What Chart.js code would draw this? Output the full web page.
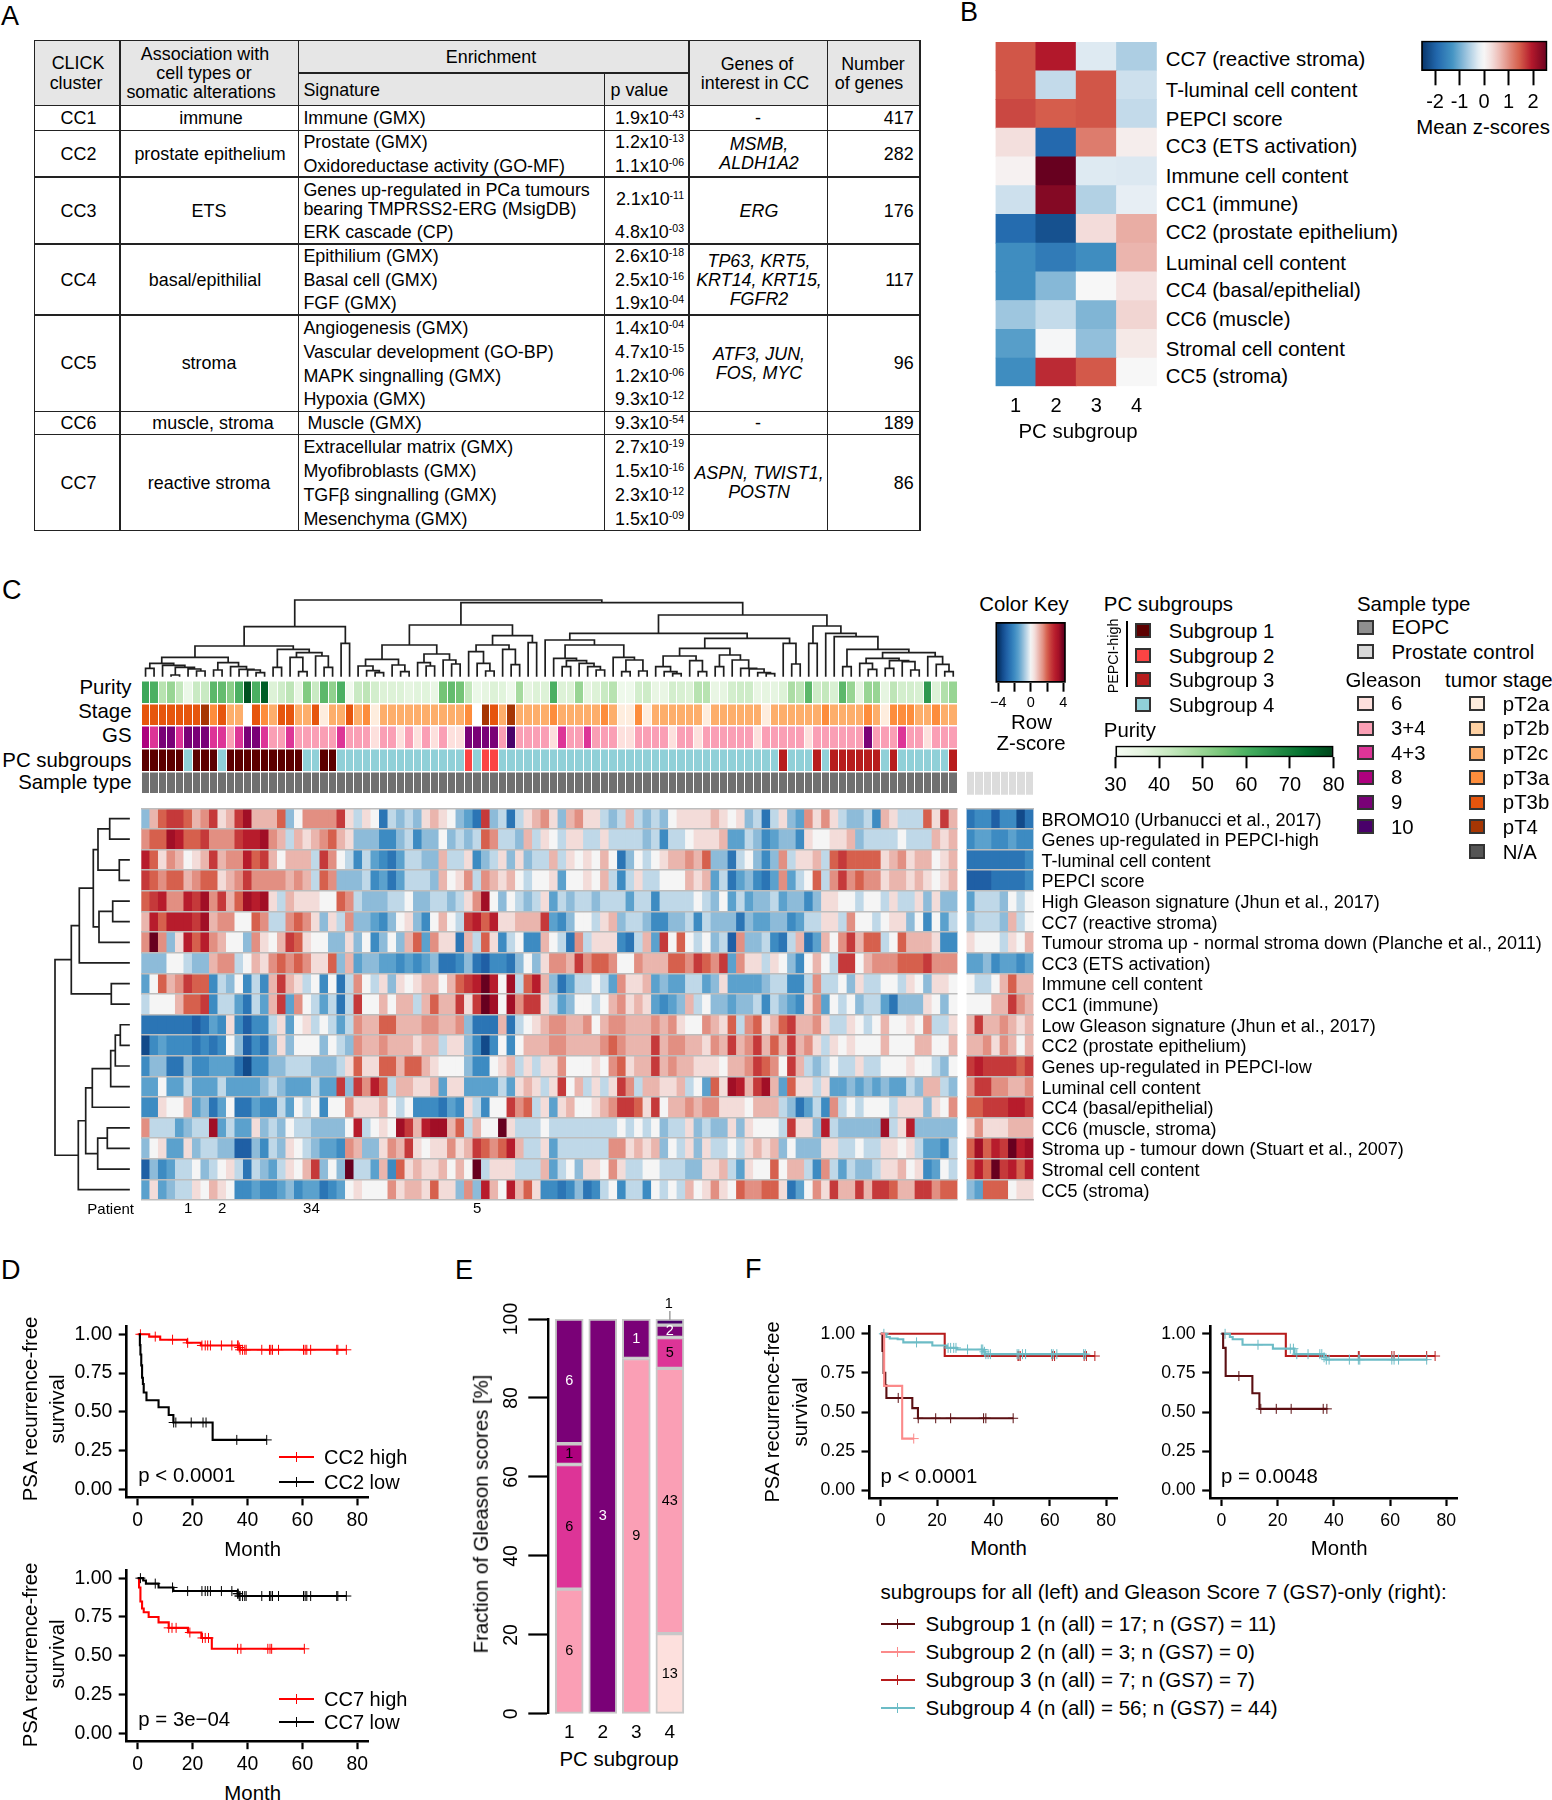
<!DOCTYPE html>
<html><head><meta charset="utf-8">
<script src="https://cdn.jsdelivr.net/npm/chart.js@4"></script>
<style>
html,body{margin:0;padding:0;background:#fff}
#root{position:relative;width:1552px;height:1800px;overflow:hidden;background:#fff;font-family:'Liberation Sans',Arial,sans-serif;color:#000}
#root canvas{position:absolute}
.t{position:absolute;white-space:nowrap;line-height:1}
.t sup{font-size:10.5px;line-height:0;vertical-align:6px}
.r{position:absolute}
</style></head><body><div id="root"></div>
<script>
/* ---------- panel B values (mean z-scores) ---------- */
const bCategories=['1','2','3','4'];
const bRowNames=['CC7 (reactive stroma)','T-luminal cell content','PEPCI score','CC3 (ETS activation)','Immune cell content','CC1 (immune)','CC2 (prostate epithelium)','Luminal cell content','CC4 (basal/epithelial)','CC6 (muscle)','Stromal cell content','CC5 (stroma)'];
const bCC7=[1.5,1.95,-0.26,-0.6];
const bTLum=[1.5,-0.45,1.5,-0.38];
const bPEPCI=[1.6,1.45,1.5,-0.45];
const bCC3=[0.3,-1.9,1.17,0.13];
const bImmune=[0.07,2.6,-0.26,-0.28];
const bCC1=[-0.38,2.35,-0.57,-0.2];
const bCC2=[-1.87,-2.2,0.33,0.75];
const bLuminal=[-1.38,-1.64,-1.38,0.68];
const bCC4=[-1.38,-0.86,0,0.26];
const bCC6=[-0.7,-0.44,-0.9,0.39];
const bStromal=[-1.17,-0.03,-0.78,0.18];
const bCC5=[-1.38,1.82,1.48,0];
const bKeyTicks=[-2,-1,0,1,2];

/* ---------- panel C annotation tracks (96 samples) ---------- */
const purity=[62,60,45,50,43,34,42,42,58,57,52,60,78,60,76,38,41,44,35,53,42,58,51,60,32,42,44,40,38,38,38,36,37,37,35,55,57,55,43,34,36,38,37,33,48,36,38,
38,60,38,38,50,36,38,42,45,33,33,40,41,35,35,40,39,38,45,45,35,36,40,41,41,35,36,36,38,47,44,58,41,43,39,58,50,36,50,50,36,44,40,40,39,65,38,46,50];
const stage=[5,5,5,5,5,5,5,6,4,5,3,3,0,5,4,3,5,5,3,3,5,1,3,3,5,3,4,1,3,3,3,3,3,3,3,3,3,3,4,0,6,5,3,6,3,3,3,
3,4,3,3,3,3,3,4,3,1,1,4,1,3,3,3,3,3,3,1,3,3,3,3,3,3,1,3,3,3,3,3,3,4,3,3,3,3,4,3,1,4,4,4,3,3,4,3,3];
const gleason=[4,3,5,5,3,5,5,5,3,3,2,3,5,5,3,2,2,3,2,2,2,2,2,3,2,2,2,1,2,2,1,2,1,2,1,2,1,1,5,5,5,5,2,6,2,2,2,
2,1,3,2,2,3,2,2,2,1,1,2,2,2,2,1,2,2,1,2,2,2,2,2,2,1,2,2,2,2,2,1,2,2,2,2,2,2,5,2,2,2,3,2,2,1,2,2,2];
const subgroup=[1,1,1,1,1,4,1,1,1,4,1,1,1,1,1,1,1,1,1,4,4,1,1,4,4,4,4,4,4,4,4,4,4,4,4,4,4,4,2,4,2,2,4,4,4,4,4,4,4,4,
4,4,4,4,4,4,4,4,4,4,4,4,4,4,4,4,4,4,4,4,4,4,4,4,4,3,4,4,4,3,4,3,3,3,3,3,3,4,3,4,4,4,4,4,4,3];

/* ---------- panel C heatmap: half z-score steps (value x 0.5 = z), EOPC samples ---------- */
const rowBROMO10=[-2,2,4,5,5,4,2,3,5,1,2,5,7,2,2,2,4,-2,0,3,3,3,3,5,1,-1,1,0,-5,-1,-2,-1,-2,1,2,1,0,-2,-3,-5,5,-2,-1,-5,-1,1,2,3,1,-2,2,3,1,1,-1,-2,-1,2,-1,-2,-1,-2,0,1,1,1,1,2,1,0,1,-2,-1,-5,-1,1,-2,-3,3,1,3,1,-1,-2,-2,-1,-4,2,1,-1,-1,-1,4,1,5,2];
const rowUpHigh=[3,4,4,7,6,4,4,5,3,3,3,5,6,6,7,3,2,-1,2,1,2,3,4,2,1,-2,-2,-2,-4,-4,-2,-1,-4,-2,-2,0,-2,-1,-2,-1,4,3,-1,-1,-2,2,-1,1,0,-1,1,1,-1,-1,1,-1,-1,-1,-1,-2,-1,-4,-1,-1,0,1,1,1,2,-3,-3,-1,-2,-4,-3,-2,-2,-4,1,0,0,1,1,2,-2,-1,-1,-1,-1,0,-1,-1,-1,2,1,2];
const rowTLum=[6,4,1,3,2,0,1,2,5,2,3,3,6,4,5,2,0,2,2,2,-1,5,3,0,-1,-4,-1,-3,-4,-5,-3,-1,-1,-2,-2,2,-1,-1,1,-4,-2,-1,1,-2,1,-2,-1,-1,2,-1,1,0,1,0,2,0,-5,-2,0,-1,0,1,2,2,3,2,4,-2,-2,-5,-1,0,-2,-4,-2,3,-1,1,1,2,-1,4,5,4,4,4,4,1,2,3,1,2,2,0,1,2];
const rowPEPCI=[5,4,3,4,4,2,3,4,4,1,2,3,5,3,3,3,3,2,3,2,-1,4,3,-2,-2,-2,-1,-4,-3,-5,-3,-1,-1,-1,-2,2,0,1,3,-1,3,2,1,2,0,-1,0,0,1,-3,0,0,1,0,2,-1,-4,-1,1,-1,-1,0,0,0,2,1,2,-3,-1,-5,-3,-2,-4,-5,-3,3,-3,-1,0,4,-1,3,5,3,4,3,3,1,2,2,1,2,1,0,1,2];
const rowHighGleason=[4,5,6,3,3,6,5,7,3,5,2,4,7,6,7,1,-1,2,1,1,1,0,0,4,3,-1,-2,-2,-2,-1,-1,0,-2,-2,-1,-1,-2,-1,1,3,7,0,-2,0,-1,-2,-1,1,-3,-1,-2,-1,-1,-2,-1,-1,-1,-3,-1,-1,-4,-1,-1,-1,-1,0,-1,-2,0,-3,-1,-3,-2,-2,-1,-3,-2,-2,-4,-2,1,1,0,0,-1,0,0,-1,1,-1,-1,1,-2,1,-2,-2];
const rowCC7=[2,6,4,6,6,6,5,7,2,3,3,0,0,4,3,-1,-1,3,4,3,1,-2,1,-1,3,-2,-2,-3,-4,-2,0,1,-2,-4,0,2,0,-1,5,6,4,6,1,1,2,2,2,5,-3,-4,-2,0,0,-1,1,2,-2,-1,-1,-2,-4,-4,-2,-2,-1,-4,-1,-2,-2,-2,-5,-2,-3,-3,-2,-2,-4,-3,-1,-1,1,1,-1,3,0,0,-1,0,1,1,-2,0,-4,0,-3,-1];
const rowTumourStroma=[3,8,3,-2,1,6,4,6,3,2,0,0,-2,3,1,0,2,5,4,1,0,0,-2,-2,1,-2,0,-4,-2,0,-2,2,4,-3,3,1,1,-5,2,-1,4,1,-4,-1,0,-4,-4,2,0,-1,-5,3,-1,1,1,1,-4,-5,-1,2,-3,5,0,4,0,-1,0,-2,-1,-6,3,-2,-2,-1,-4,-5,-1,2,-5,-3,2,0,3,5,2,4,4,-1,0,4,2,2,2,1,-4,-4];
const rowCC3=[-2,-2,-2,0,0,-1,-2,-2,2,3,3,-1,0,2,1,3,4,3,4,3,1,1,4,-2,2,-3,-2,-2,-3,-3,-4,-3,-4,-3,-2,-5,-5,-4,-2,-5,-6,-4,-4,-5,-2,0,-2,1,3,3,2,5,3,4,4,3,0,0,3,2,2,2,4,4,3,5,4,3,5,-3,3,1,1,-1,1,0,-2,-4,0,2,0,-1,5,5,0,2,3,3,3,4,4,4,5,3,3,3];
const rowImmune=[-3,0,4,2,3,5,4,4,-4,-1,-2,0,-4,-1,-4,2,5,2,1,-1,0,-4,0,-5,-1,3,0,-1,1,-2,1,0,1,2,2,0,2,4,5,6,8,6,0,7,-1,4,6,2,-2,-5,-3,-1,-1,0,-1,-3,3,1,1,2,-3,-2,-3,-3,-1,-1,-3,-2,1,-3,-3,-3,-3,-2,-1,-1,-4,-4,-1,3,-1,-1,0,-2,1,-1,-1,0,0,-1,1,0,-2,1,1,0];
const rowCC1=[-1,0,0,0,2,4,4,5,-4,-1,-1,-3,-5,-1,-3,2,5,-3,3,0,-1,-3,-1,-5,-1,5,0,0,2,0,2,2,-1,2,4,2,2,5,1,5,8,7,0,7,3,5,5,1,-1,-3,-2,0,0,-1,0,2,3,1,2,1,-3,-4,-3,-2,2,-1,0,-2,-2,-3,-2,-2,-1,-4,-1,-2,-3,-4,1,3,-3,0,-1,0,-2,-1,-1,-3,-5,-2,-2,-2,1,0,-2,0];
const rowLowGleason=[-5,-5,-5,-5,-5,-5,-6,-5,-3,-4,1,-4,-6,-4,-4,-1,1,-3,0,1,-1,0,-1,-3,-1,3,2,2,4,4,2,2,2,3,3,2,2,3,-2,-5,-5,-5,2,-5,-1,0,1,2,3,3,2,2,3,0,2,3,3,2,2,2,3,2,3,1,0,0,3,2,1,4,-1,3,4,1,2,4,5,2,2,3,1,-1,-1,1,0,-1,0,2,0,0,1,0,3,-1,-1,1];
const rowCC2=[-7,-4,-3,-4,-4,-4,-5,-4,-5,-4,0,-2,-6,-4,-5,-2,1,-2,0,0,0,-2,0,-1,-2,3,2,2,3,2,2,2,1,2,2,-1,1,1,-2,-4,-7,-4,0,-4,0,2,2,2,3,3,2,2,2,2,3,4,3,2,2,2,5,2,3,3,2,2,1,3,2,5,2,3,5,2,4,2,5,2,3,1,-1,1,0,1,0,0,0,2,0,0,0,2,2,0,0,2];
const rowUpLow=[-4,-2,-2,-5,-5,-2,-4,-4,-3,-3,-3,-5,-7,-4,-4,-2,-2,-1,-1,-1,-2,-2,-2,-1,1,4,1,1,4,4,2,4,4,2,1,0,0,0,-2,-4,-4,0,1,2,-1,1,-1,1,1,3,0,0,0,1,0,3,4,1,2,2,5,2,3,2,2,1,1,1,0,2,2,3,5,4,3,0,5,2,-1,-2,-1,0,-1,-1,1,-1,-1,0,0,0,1,0,0,-1,-2,0];
const rowLuminal=[-3,-3,0,-3,-3,-1,-3,-3,-3,-1,-3,-3,-3,-3,-2,-1,-2,-3,-3,-3,-1,-3,-3,5,-2,5,3,6,4,-1,2,2,1,1,2,-3,1,1,-3,-3,-3,-3,-1,-3,1,2,1,-1,1,5,0,2,-1,1,-1,1,5,3,-1,2,2,1,1,2,-1,0,-3,4,1,7,6,2,5,7,2,-3,4,1,1,-1,1,-3,-3,-2,-3,-2,-3,-2,-3,-3,-1,-2,2,2,-1,-2];
const rowCC4=[-4,-4,1,0,0,2,-3,-2,-5,-3,0,-5,-5,-3,-4,-4,-1,-3,0,-1,0,-4,0,0,3,1,1,1,2,0,-1,0,-4,-4,-4,-5,-3,-4,1,-1,-4,0,0,5,3,4,-1,1,-3,1,2,0,0,1,2,3,5,5,4,1,5,0,2,2,3,2,3,3,1,1,1,0,2,2,2,-1,-2,-5,-3,-1,-4,3,-1,0,-1,0,0,0,-1,1,1,1,-2,1,0,3];
const rowCC6=[3,-1,-1,-1,-3,-2,-1,-1,7,-3,-1,-3,-3,1,-2,-1,-2,0,-1,-1,-2,-2,-2,-2,0,6,-1,0,1,0,7,5,2,6,7,7,2,4,-1,2,0,0,8,1,-1,-1,-1,0,-1,-1,-1,-1,-1,-1,-1,-1,0,-1,0,-1,0,-2,-1,-1,1,-2,-1,-2,-2,1,-2,1,0,0,0,-1,5,1,1,-2,6,-1,-2,-2,-2,-2,-2,7,-1,1,6,-2,-2,-2,-2,-2];
const rowStromaUp=[-2,0,1,-3,-3,1,-2,-1,-1,-2,-2,-6,-6,-2,-4,-1,-2,1,0,-1,-2,-3,-3,-4,3,2,-2,-2,1,3,2,5,1,0,1,1,3,1,2,5,4,3,4,6,2,-1,-1,1,-3,-1,-1,-1,-1,-1,-1,3,3,1,2,1,2,-2,0,-1,1,-2,1,-1,-1,0,-1,1,2,1,2,-2,0,-2,-2,-2,1,1,-1,-1,0,-1,-1,1,1,0,1,-1,-3,-3,-4,-1];
const rowStromal=[-6,-2,-4,-3,-1,-1,0,-2,-1,0,1,-1,-5,-1,-2,-3,-1,1,0,2,5,-2,0,-2,8,-1,-1,-3,2,-4,4,1,2,1,1,2,0,2,0,8,-1,1,1,1,-1,-1,-1,2,-3,-1,0,-2,1,1,0,3,1,-1,-1,0,0,-1,-1,-1,-2,-2,1,1,2,-1,-3,1,0,0,4,0,2,2,-1,-4,3,-1,-3,-1,-2,-2,-1,1,1,2,0,1,-4,-3,0,-1];
const rowCC5=[-3,1,-3,-2,-1,-1,1,0,2,1,0,-4,-4,-3,-4,-4,-3,-2,-4,-3,-3,-5,-4,-3,0,1,0,0,0,3,1,2,2,1,4,1,1,-2,3,-2,6,2,0,6,2,4,1,-4,-4,-5,-4,-2,-5,-4,-1,0,-4,-1,-1,-4,0,-1,0,-1,2,0,1,3,1,0,4,3,3,4,4,1,-5,-3,0,3,1,5,2,2,5,2,5,5,4,2,2,5,5,3,4,4];

/* ---------- panel C heatmap: prostate control samples ---------- */
const ctlBROMO10=[-5,-4,-4,-6,-4,-4,-7,-5];
const ctlUpHigh=[-4,-3,-3,-4,-4,-3,-4,-4];
const ctlTLum=[-5,-5,-5,-5,-5,-5,-5,-4];
const ctlPEPCI=[-6,-6,-6,-5,-5,-5,-5,-4];
const ctlHighGleason=[-3,-1,-1,-1,-2,0,-1,0];
const ctlCC7=[-2,-1,-1,-1,-2,2,-1,0];
const ctlTumourStroma=[1,0,0,0,-1,1,0,2];
const ctlCC3=[-3,-3,-2,-4,-3,-3,-4,-3];
const ctlImmune=[0,-1,-1,0,2,4,2,2];
const ctlCC1=[0,0,0,2,2,5,3,2];
const ctlLowGleason=[2,5,2,2,3,2,1,2];
const ctlCC2=[2,2,3,1,3,2,0,2];
const ctlUpLow=[5,6,5,5,5,5,4,5];
const ctlLuminal=[3,5,5,3,3,2,2,3];
const ctlCC4=[4,4,5,5,5,6,6,5];
const ctlCC6=[1,3,1,1,1,2,2,2];
const ctlStromaUp=[4,7,4,6,5,8,6,7];
const ctlStromal=[4,6,4,8,5,6,4,6];
const ctlCC5=[-2,-3,4,4,4,0,1,1];

const heatRowNames=['BROMO10 (Urbanucci et al., 2017)','Genes up-regulated in PEPCI-high','T-luminal cell content','PEPCI score','High Gleason signature (Jhun et al., 2017)','CC7 (reactive stroma)','Tumour stroma up - normal stroma down (Planche et al., 2011)','CC3 (ETS activation)','Immune cell content','CC1 (immune)','Low Gleason signature (Jhun et al., 2017)','CC2 (prostate epithelium)','Genes up-regulated in PEPCI-low','Luminal cell content','CC4 (basal/epithelial)','CC6 (muscle, stroma)','Stroma up - tumour down (Stuart et al., 2007)','Stromal cell content','CC5 (stroma)'];
const patientColumns=[5,9,19,20,39];
const patientLabels=['1','2','3','4','5'];
const colorKeyTicks=[-4,-2,0,2,4];
const purityTicks=[30,40,50,60,70,80];

/* dendrograms: node = [height, left, right]; 0 = leaf */
const topTreeLeft=[49.3,[30,
  [18.7,[12.7,[7.7,0,0],[10.7,0,[8.7,[1,0,0],[7,0,[5,0,0]]]]],[13.3,[6,0,0],[9.3,0,[6.7,0,[6,0,[3.3,0,0]]]]]],
  [26.7,[8.7,0,0],[23.3,[18.7,0,[4.3,0,0]],[20,0,[8.7,0,0]]]]],[32.7,0,0]];
const topTreeC=[31,[16.7,[10,0,[5.3,0,[3.3,0,0]]],[11,0,[4.3,0,0]]],[22,[13.3,0,[10,0,0]],[16,0,[12,0,0]]]];
const topTreeD=[40.3,[31,[24.3,0,[12.7,0,[5,0,0]]],[26.7,0,[11.3,0,0]]],[33.3,0,0]];
const topTreeE=[36,0,[31,[17.7,0,[15.3,[9.3,0,0],[12.7,0,[9.3,0,[6,0,0]]]]],[18.7,0,[16,[4.3,0,0],[5,0,0]]]]];
const topTreeF=[37.7,[27.7,[20,[9.3,0,[4.3,0,[2.3,0,0]]],[15.3,0,[4.3,0,0]]],[21,[9.3,0,0],[16,0,[7.7,0,[7,0,[3.3,0,[2.3,0,0]]]]]]],[32.7,0,[12,0,0]]];
const topTreeG=[50,[32.7,0,0],[42.7,0,[39.3,0,[26.7,[9.3,0,0],[23.3,[17.7,[12.7,0,[6.7,0,0]],[15.3,[7.7,0,0],[14.3,0,[6,0,0]]]],[19.3,0,[11.7,0,[4.3,0,0]]]]]]]];
const topTree=[76,topTreeLeft,[73.3,[51,topTreeC,topTreeD],[61,[42.7,topTreeE,topTreeF],topTreeG]]];
const rowTree=[74,[57.7,[49.7,[35.7,[31,[19.3,0,0],[9.7,0,0]],[30,[16.3,0,0],0]],0],[17.7,0,0]],[50.7,[43.3,[36.7,[18.3,[13.7,[8.7,0,0],0],0],0],[31.3,[21.7,0,0],0]],0]];

/* ---------- panels D and F: survival curves (month, survival, censoring months) ---------- */
const monthTicks=[0,20,40,60,80];
const survTicks=[0,0.25,0.5,0.75,1];
const cc2HighT=[0,4.2,8.2,18,23,36.7,37.3,76];
const cc2HighS=[1,0.985,0.965,0.945,0.928,0.915,0.90,0.90];
const cc2HighC=[1,6.4,12.7,18.2,23.4,24.6,25.5,26.5,30.5,34.3,36.4,36.6,37,37.3,38.2,39,39.5,45.2,48,48.5,49.1,51.3,60.4,61,61.6,63,72.5,72.9,76];
const cc2LowT=[0.5,0.8,1,1.3,1.6,1.9,2.2,3.2,7.6,11.3,13,27.3,47];
const cc2LowS=[1,0.93,0.87,0.8,0.72,0.68,0.625,0.575,0.53,0.48,0.432,0.32,0.32];
const cc2LowC=[13.1,13.9,19.5,23.8,24.9,36.1,47];
const cc7HighT=[0,0.5,1,1.6,2.2,4,7.6,11.3,18.3,23.2,27,60.7];
const cc7HighS=[1,0.94,0.85,0.805,0.78,0.75,0.715,0.68,0.65,0.615,0.545,0.545];
const cc7HighC=[11.3,12.5,14,19,23.6,24.6,25.8,36.4,37.6,47.4,48.2,48.8,60.7];
const cc7LowT=[0,2,3,7.6,13,36.4,37,76];
const cc7LowS=[1,0.985,0.965,0.94,0.917,0.90,0.885,0.885];
const cc7LowC=[1,6.4,12.7,18.2,23.4,24.6,25.5,26.5,30.5,34.3,36.4,36.6,37,37.3,38.2,39,39.5,45.2,48,48.5,49.1,51.3,60.4,61,61.6,63,72.5,72.9,76];

const f1Sub1T=[0,0.6,1,1.6,2,11.2,13.2,47];
const f1Sub1S=[1,0.89,0.75,0.67,0.59,0.525,0.46,0.46];
const f1Sub1C=[6.2,13.3,19.5,24.8,36.5,37.3,47];
const f1Sub2T=[0,1.2,7.6,11.7];
const f1Sub2S=[1,0.667,0.33,0.33];
const f1Sub2C=[11.7];
const f1Sub3T=[0,22.7,76];
const f1Sub3S=[1,0.858,0.858];
const f1Sub3C=[48.7,49,49.5,60.9,61.7,72.2,73,76];
const f1Sub4T=[0,2,3.2,6,8,18.3,23.5,27,36.4,37,73];
const f1Sub4S=[1,0.98,0.97,0.965,0.945,0.925,0.91,0.90,0.885,0.87,0.87];
const f1Sub4C=[1.1,12.7,23.9,24.8,25.9,26.7,30.8,35.7,36.2,36.8,37.3,38.1,38.9,48.4,49,50.3,51.4,60.6,61.2,62.5,72,72.6];

const f2Sub1T=[0,0.6,1.5,11,13.5,37.5];
const f2Sub1S=[1,0.91,0.73,0.62,0.52,0.52];
const f2Sub1C=[6.2,14,19.5,24.8,36.2,37.5];
const f2Sub3T=[0,22.9,76];
const f2Sub3S=[1,0.858,0.858];
const f2Sub3C=[48.7,49,60.6,61.4,73,76];
const f2Sub4T=[0,3,4,7.5,18.3,26,36.5,37.3,73];
const f2Sub4S=[1,0.98,0.965,0.93,0.905,0.87,0.85,0.835,0.835];
const f2Sub4C=[1.3,13,24.5,25.6,26.8,30.8,35,35.7,36.5,37.3,38.3,45.5,48.7,49.2,60.6,61.4,63,73];

/* ---------- panel E: sample counts per PC subgroup ---------- */
const eSubgroups=[1,2,3,4];
const eGs6=[0,0,0,13];
const eGs34=[6,0,9,43];
const eGs43=[6,0,0,5];
const eGs8=[1,0,0,0];
const eGs9=[6,3,1,2];
const eGs10=[0,0,0,1];
const eTicks=[0,20,40,60,80,100];

/* ---------- colours ---------- */
const RED='#ff0000';
const gsColors=['#ffffff','#fde0dd','#fa9fb5','#dd3497','#ae017e','#7a0177','#49006a'];
const stageColors=['#ffffff','#feedde','#fdd0a2','#fdae6b','#fd8d3c','#e6550d','#a63603'];
const subColors=[null,'#5c0000','#fb4444','#b71c1c','#90d0d8'];
const subLine=['#5b0f12','#fb8a8a','#b71c1c','#6cbcc6'];
const greens=['#f7fcf5','#e5f5e0','#c7e9c0','#a1d99b','#74c476','#41ab5d','#238b45','#006d2c','#00441b'];
const ramp=['#053061','#124a8a','#1f5fa5','#2b75b5','#3d8bc2','#5ba1cd','#8dbbd9','#bfd8e8','#f5f5f5','#f3dcd9','#eab5ad','#e28f82','#d6604d','#c5393a','#b71c2c','#a10f26','#67001f'];
const bStops=[[-1,'#053061'],[-0.75,'#2166ac'],[-0.5,'#4393c3'],[-0.25,'#a6cae1'],[-0.08,'#e6eef4'],[0,'#f7f7f7'],[0.12,'#f3dedc'],[0.25,'#ecb9b2'],[0.4,'#e08a7d'],[0.55,'#d6604d'],[0.75,'#b2182b'],[1,'#67001f']];
function hex(c){return [1,3,5].map(i=>parseInt(c.substr(i,2),16));}
function mix(c1,c2,f){const a=hex(c1),b=hex(c2);return 'rgb('+a.map((v,k)=>Math.round(v+(b[k]-v)*f)).join(',')+')';}
function lerpCols(list,t){t=Math.max(0,Math.min(1,t))*(list.length-1);const i=Math.min(Math.floor(t),list.length-2);return mix(list[i],list[i+1],t-i);}
const zColor=z=>lerpCols(ramp,(z+4)/8);
const levelColor=l=>zColor(l*0.5);
const bColor=z=>{const t=Math.max(-1,Math.min(1,z/2.6));let i=0;while(i<bStops.length-2&&t>bStops[i+1][0])i++;
  return mix(bStops[i][1],bStops[i+1][1],(t-bStops[i][0])/(bStops[i+1][0]-bStops[i][0]));};
const purityColor=p=>lerpCols(greens,(p-30)/50);

/* ---------- page helpers ---------- */
const root=document.getElementById('root');
function T(x,y,str,o={}){const d=document.createElement('div');d.className='t';
  const ax=o.align==='center'?'-50%':o.align==='right'?'-100%':'0';
  d.style.left=x+'px';d.style.top=y+'px';d.style.fontSize=(o.size||20.4)+'px';
  if(o.italic)d.style.fontStyle='italic';
  d.style.transform=o.rot?'translate(-50%,-50%) rotate(-90deg)':'translate('+ax+',-50%)';
  if(o.html)d.innerHTML=str;else d.textContent=str;root.appendChild(d);return d;}
function R(x,y,w,h,bg,border){const d=document.createElement('div');d.className='r';
  d.style.cssText='left:'+x+'px;top:'+y+'px;width:'+w+'px;height:'+h+'px;background:'+bg+';'+(border?'box-sizing:border-box;border:2px solid '+border+';':'');root.appendChild(d);return d;}
function area(l,t,r,b,pad){const c=document.createElement('canvas');
  const cl=Math.floor(l-pad[0]),ct=Math.floor(t-pad[1]),cw=Math.ceil(r+pad[2])-cl,ch=Math.ceil(b+pad[3])-ct;
  c.width=cw;c.height=ch;c.style.left=cl+'px';c.style.top=ct+'px';c.style.width=cw+'px';c.style.height=ch+'px';root.appendChild(c);
  return {c,padding:{left:l-cl,top:t-ct,right:cw-(r-cl),bottom:ch-(b-ct)}};}
function base(padding){return {responsive:false,maintainAspectRatio:false,animation:false,devicePixelRatio:1,events:[],layout:{padding},plugins:{legend:{display:false},tooltip:{enabled:false}}};}
const zeroFit=s=>{if(s.isHorizontal())s.height=0;else s.width=0;};
/* an axis that shows labels takes the whole margin on its side as its own box, so the plot area stays exact */
function fitAxis(a,side){const v=a.padding[side];a.padding[side]=0;return s=>{if(s.isHorizontal())s.height=v;else s.width=v;};}
const setTicks=vals=>s=>{s.ticks=vals.map(value=>({value}));};
const FONT="'Liberation Sans',Arial,sans-serif";

/* heat block: list of rows (top first) drawn as stacked unit bars */
function heat(a,rows,colorFn,opt={}){
  const n=rows[0].length,m=rows.length,labels=Array.from({length:n},(_,i)=>String(i+1));
  const o=base(a.padding);
  o.scales={
    x:Object.assign({type:'category',stacked:true,afterFit:zeroFit,border:{display:false},
      grid:opt.vSep?{offset:true,z:1,color:opt.vSep,lineWidth:1,drawTicks:false}:{display:false,drawTicks:false},
      ticks:{display:false}},opt.x||{}),
    y:Object.assign({type:'linear',stacked:true,min:0,max:m,afterFit:zeroFit,afterBuildTicks:setTicks(Array.from({length:m+1},(_,i)=>i)),
      border:{display:false},grid:{z:1,drawTicks:false,color:opt.hSep||'#bdbdbd',lineWidth:opt.hWidth||1.4},ticks:{display:false}},opt.y||{})};
  return new Chart(a.c,{type:'bar',data:{labels,datasets:rows.slice().reverse().map((r,k)=>({data:r.map(()=>1),
    backgroundColor:r.map((v,i)=>colorFn(v,i,m-1-k)),barPercentage:1,categoryPercentage:1,borderWidth:0}))},options:o});
}
/* colour key: gradient bar over its own numeric axis */
function key(a,min,max,ticks,colFn,o){
  const opts=base(a.padding);
  opts.indexAxis='y';
  opts.scales={x:{type:'linear',min,max,afterFit:fitAxis(a,'bottom'),afterBuildTicks:setTicks(ticks),border:{display:false},
      grid:{drawOnChartArea:false,tickLength:o.tick,tickWidth:2,tickColor:'#000',color:'#000'},
      ticks:{color:'#000',padding:o.pad,font:{family:FONT,size:o.size},maxRotation:0,autoSkip:false,callback:o.cb||(v=>v)}},
    y:{display:false}};
  return new Chart(a.c,{type:'bar',data:{labels:['key'],datasets:[{data:[[min,max]],barPercentage:1,categoryPercentage:1,borderSkipped:false,borderWidth:2,borderColor:'#000',
    backgroundColor(ctx){const ch=ctx.chart,xs=ch.scales.x;if(!xs||!ch.chartArea)return '#888';
      const g=ch.ctx.createLinearGradient(xs.getPixelForValue(min),0,xs.getPixelForValue(max),0);
      for(let i=0;i<=40;i++){g.addColorStop(i/40,colFn(min+(max-min)*i/40));}return g;}}]},options:opts});
}
/* dendrogram: flatten a nested tree through the chart scales */
function flatten(tree,swap){const pts=[];let leaf=0;
  const P=(p,h)=>pts.push(swap?{x:h,y:p}:{x:p,y:h});
  (function walk(n){if(n===0){const p=leaf+0.5;leaf++;return {p,h:0};}
    const a=walk(n[1]),b=walk(n[2]);P(a.p,a.h);P(a.p,n[0]);P(b.p,n[0]);P(b.p,b.h);pts.push({x:NaN,y:NaN});return {p:(a.p+b.p)/2,h:n[0]};})(tree);
  return pts;}
function dendro(a,tree,swap,xs,ys){const o=base(a.padding);
  o.scales={x:Object.assign({type:'linear',display:false},xs),y:Object.assign({type:'linear',display:false},ys)};
  return new Chart(a.c,{type:'scatter',data:{datasets:[{data:flatten(tree,swap),showLine:true,pointRadius:0,borderColor:'#1e1e1e',borderWidth:1.7,tension:0,spanGaps:false,clip:false,borderJoinStyle:'miter',borderCapStyle:'square'}]},options:o});}
/* survival */
const survAt=(t,T_,S_)=>{let s=S_[0];for(let i=0;i<T_.length;i++){if(T_[i]<=t)s=S_[i];}return s;};
function km(a,curves,size){const o=base(a.padding);
  const axis=(ticks,cb,pad,fit)=>({type:'linear',afterFit:fit,afterBuildTicks:setTicks(ticks),border:{display:true,color:'#000',width:2.6},
    grid:{drawOnChartArea:false,tickLength:8,tickWidth:2.2,tickColor:'#000',color:'#000'},
    ticks:{color:'#000',padding:pad,autoSkip:false,maxRotation:0,font:{family:FONT,size},callback:cb}});
  o.scales={x:Object.assign(axis(monthTicks,v=>v,4,fitAxis(a,'bottom')),{min:-4,max:84}),y:Object.assign(axis(survTicks,v=>v.toFixed(2),6.5,fitAxis(a,'left')),{min:-0.05,max:1.05})};
  const ds=[];curves.forEach(c=>{
    ds.push({data:c.t.map((x,i)=>({x,y:c.s[i]})),showLine:true,stepped:true,pointRadius:0,borderColor:c.color,borderWidth:2.1,clip:false});
    ds.push({data:c.c.map(x=>({x,y:survAt(x,c.t,c.s)})),showLine:false,pointStyle:'cross',pointRadius:5,borderColor:c.color,borderWidth:1,clip:false});});
  return new Chart(a.c,{type:'scatter',data:{datasets:ds},options:o});}
function legendLine(x1,x2,y,color,lw){R(x1,y-1.1,x2-x1,2.2,color);R((x1+x2)/2-0.5,y-5,1,10,color);}

/* ---------- labels ---------- */
[['A',1,16],['B',960,12],['C',2,590],['D',1,1270],['E',455,1270],['F',745,1269]].forEach(l=>T(l[1],l[2],l[0],{size:27}));

/* ---------- panel A table ---------- */
(function(){
  const TS=17.9,L=34.6,Ri=920,Top=40.3,Bot=530.3;
  R(L,Top,Ri-L,105.5-Top,'#e6e6e6');
  const H=[40.3,105.5,130.3,177,244,315,411.4,434.5,530.3];
  H.forEach(y=>R(L-0.7,y-0.7,Ri-L+1.4,1.5,'#222'));
  R(298.6,72.3,390.2,1.6,'#222');
  [L,120,298.6,688.8,827.3,Ri].forEach(x=>R(x-0.7,Top,1.5,Bot-Top,'#222'));
  R(604.3-0.7,73,1.5,Bot-73,'#222');
  const C=(x,y,s,o={})=>T(x,y+1,s,Object.assign({size:TS},o));
  C(78,63.4,'CLICK',{align:'center'});C(76,82.8,'cluster',{align:'center'});
  C(205,54,'Association with',{align:'center'});C(204,73.4,'cell types or',{align:'center'});C(201,92.4,'somatic alterations',{align:'center'});
  C(491,57,'Enrichment',{align:'center'});C(303.4,89.7,'Signature');C(610.5,89.7,'p value');
  C(757,63.8,'Genes of',{align:'center'});C(755,82.8,'interest in CC',{align:'center'});C(873,63.8,'Number',{align:'center'});C(869,82.8,'of genes',{align:'center'});
  const clusters=[['CC1','immune',118.3,211,'417'],['CC2','prostate epithelium',153.8,210,'282'],['CC3','ETS',210.7,209,'176'],['CC4','basal/epithilial',280,205,'117'],['CC5','stroma',363.4,209,'96'],['CC6','muscle, stroma',423,213,'189'],['CC7','reactive stroma',482.7,209,'86']];
  clusters.forEach(c=>{C(78.5,c[2],c[0],{align:'center'});C(c[3],c[2],c[1],{align:'center'});C(913.7,c[2],c[4],{align:'right'});});
  const sigs=[['Immune (GMX)',118.3],['Prostate (GMX)',141.7],['Oxidoreductase activity (GO-MF)',165.9],['Genes up-regulated in PCa tumours',189.7],['bearing TMPRSS2-ERG (MsigDB)',209],['ERK cascade (CP)',232.4],['Epithilium (GMX)',256.2],['Basal cell (GMX)',280],['FGF (GMX)',303.4],['Angiogenesis (GMX)',327.6],['Vascular development (GO-BP)',351.7],['MAPK singnalling (GMX)',375.5],['Hypoxia (GMX)',399.3],['Extracellular matrix (GMX)',447],['Myofibroblasts (GMX)',471],['TGF\u03b2 singnalling (GMX)',495],['Mesenchyma (GMX)',518.6]];
  sigs.forEach(s=>C(303.4,s[1],s[0]));C(307.5,423,'Muscle (GMX)');
  const ps=[['1.9','-43',118.3],['1.2','-13',141.7],['1.1','-06',165.9],['2.1','-11',198.6],['4.8','-03',232.4],['2.6','-18',256.2],['2.5','-16',280],['1.9','-04',303.4],['1.4','-04',327.6],['4.7','-15',351.7],['1.2','-06',375.5],['9.3','-12',399.3],['9.3','-54',423],['2.7','-19',447],['1.5','-16',471],['2.3','-12',495],['1.5','-09',518.6]];
  ps.forEach(p=>C(684,p[2],p[0]+'x10<sup>'+p[1]+'</sup>',{align:'right',html:true}));
  const genes=[['MSMB,',144],['ALDH1A2',163.4],['ERG',210.7],['TP63, KRT5,',260.7],['KRT14, KRT15,',280],['FGFR2',299],['ATF3, JUN,',353.8],['FOS, MYC',373],['ASPN, TWIST1,',473.4],['POSTN',492.4]];
  genes.forEach(g=>C(759,g[1],g[0],{align:'center',italic:true}));
  C(758,118.3,'-',{align:'center'});C(758,423,'-',{align:'center'});
})();

/* ---------- panel B ---------- */
(function(){
  const a=area(995.5,42,1156.8,386.7,[30,4,4,40]);
  const rows=[bCC7,bTLum,bPEPCI,bCC3,bImmune,bCC1,bCC2,bLuminal,bCC4,bCC6,bStromal,bCC5];
  heat(a,rows,bColor,{hSep:'rgba(0,0,0,0)',
    x:{afterFit:fitAxis(a,'bottom'),ticks:{display:true,color:'#000',padding:8,autoSkip:false,maxRotation:0,font:{family:FONT,size:20},callback:(v,i)=>bCategories[i]}}});
  const ys=[59.3,89.7,118.7,145.7,176.3,203.7,232,263,290,318.7,349.3,376.3];
  bRowNames.forEach((n,i)=>T(1165.8,ys[i],n));
  T(1078,431,'PC subgroup',{align:'center'});
  key(area(1421.2,40.7,1547.4,71,[16,2,4,40]),-2.567,2.584,bKeyTicks,z=>bColor(z),{tick:14.3,pad:5,size:20,cb:v=>String(v)});
  T(1483,126.7,'Mean z-scores',{align:'center'});
})();

/* ---------- panel C ---------- */
(function(){
  dendro(area(141.3,598,957.5,676,[2,2,2,2]),topTree,false,{min:0,max:96},{min:0,max:78});
  const annRows=[purity,stage,gleason,subgroup,purity];
  const annFn=(v,i,r)=>r===0?purityColor(purity[i]):r===1?stageColors[stage[i]]:r===2?gsColors[gleason[i]]:r===3?subColors[subgroup[i]]:'#707070';
  heat(area(141.3,681,957.5,794,[1,1,1,1]),annRows,annFn,{vSep:'#ffffff',hSep:'#ffffff',hWidth:1.6});
  heat(area(966.5,771.7,1033.5,795,[1,1,1,1]),[[1,1,1,1,1,1,1,1]],()=>'#dcdcdc',{vSep:'#ffffff',hSep:'rgba(0,0,0,0)'});
  [['Purity',687.3],['Stage',711.3],['GS',735.3],['PC subgroups',760],['Sample type',782]].forEach(l=>T(131.5,l[1],l[0],{align:'right'}));
  dendro(area(53,808.3,129,1200,[2,2,2,2]),rowTree,true,{min:0,max:76,reverse:true},{min:0,max:19,reverse:true});
  const heatRows=[rowBROMO10,rowUpHigh,rowTLum,rowPEPCI,rowHighGleason,rowCC7,rowTumourStroma,rowCC3,rowImmune,rowCC1,rowLowGleason,rowCC2,rowUpLow,rowLuminal,rowCC4,rowCC6,rowStromaUp,rowStromal,rowCC5];
  const ctlRows=[ctlBROMO10,ctlUpHigh,ctlTLum,ctlPEPCI,ctlHighGleason,ctlCC7,ctlTumourStroma,ctlCC3,ctlImmune,ctlCC1,ctlLowGleason,ctlCC2,ctlUpLow,ctlLuminal,ctlCC4,ctlCC6,ctlStromaUp,ctlStromal,ctlCC5];
  const mainA=area(141.3,808.3,957.5,1200,[1,2,1,20]);
  heat(mainA,heatRows,levelColor,{
    x:{afterFit:fitAxis(mainA,'bottom'),ticks:{display:true,color:'#000',padding:0,autoSkip:false,minRotation:0,maxRotation:0,font:{family:FONT,size:15},
      callback:(v,i)=>{const k=patientColumns.indexOf(i);return k<0?'':patientLabels[k];}}}});
  T(134,1208,'Patient',{align:'right',size:15});
  const ctlA=area(966.5,808.3,1033.5,1200,[1,30,517,30]);
  heat(ctlA,ctlRows,levelColor,{
    y:{position:'right',afterFit:fitAxis(ctlA,'right'),ticks:{display:true,color:'#000',padding:8,labelOffset:12.3,autoSkip:false,font:{family:FONT,size:18},callback:v=>v===0?'':heatRowNames[19-v]}}});
  /* colour key */
  T(1024,604,'Color Key',{align:'center'});
  key(area(995.4,622,1065.8,682.7,[14,2,14,30]),-4.357,4.308,colorKeyTicks,zColor,{tick:9,pad:2.5,size:14.5,cb:v=>v===0?'0':v===-4?'\u22124':v===4?'4':''});
  T(1031.5,721.7,'Row',{align:'center'});T(1031,742.7,'Z-score',{align:'center'});
  /* subgroup legend */
  T(1103.8,604,'PC subgroups');
  const sw=(x,y,c)=>R(x,y-7.5,16.5,15,c,'#333');
  ['Subgroup 1','Subgroup 2','Subgroup 3','Subgroup 4'].forEach((s,i)=>{const y=[630.3,655,679.3,704][i];sw(1134.6,y,subColors[i+1]);T(1168.8,y+0.7,s);});
  T(1113,655.8,'PEPCI-high',{rot:true,size:14.3});
  R(1126.4,621.3,2,66,'#000');
  T(1103.8,730,'Purity');
  key(area(1115.4,745.7,1333.5,757.3,[16,2,16,36]),30,80,purityTicks,purityColor,{tick:11,pad:5,size:20,cb:v=>String(v)});
  /* sample type */
  T(1357,604,'Sample type');
  sw(1357,627,'#8f8f8f');T(1391.5,627,'EOPC');
  sw(1357,651.7,'#d9d9d9');T(1391.5,652,'Prostate control');
  T(1345.5,680,'Gleason');T(1445,680,'tumor stage');
  [['6',703.3],['3+4',728],['4+3',752.7],['8',777.3],['9',802],['10',826.7]].forEach((g,i)=>{sw(1357,g[1],gsColors[i+1]);T(1391,g[1],g[0]);});
  [['pT2a','#feedde'],['pT2b','#fdd0a2'],['pT2c','#fdae6b'],['pT3a','#fd8d3c'],['pT3b','#e6550d'],['pT4','#a63603'],['N/A','#555555']].forEach((g,i)=>{const y=703.7+24.65*i;sw(1468.6,y,g[1]);T(1502.8,y,g[0]);});
})();

/* ---------- panel D ---------- */
(function(){
  km(area(126.7,1326.5,368.3,1497.4,[100,30,25,35]),[{t:cc2LowT,s:cc2LowS,c:cc2LowC,color:'#000'},{t:cc2HighT,s:cc2HighS,c:cc2HighC,color:RED}],19.4);
  km(area(126.7,1570.4,368.3,1741.2,[100,30,25,35]),[{t:cc7LowT,s:cc7LowS,c:cc7LowC,color:'#000'},{t:cc7HighT,s:cc7HighS,c:cc7HighC,color:RED}],19.4);
  T(30,1409.3,'PSA recurrence-free',{rot:true});T(57.3,1408.8,'survival',{rot:true});
  T(30,1655,'PSA recurrence-free',{rot:true});T(57.3,1654.4,'survival',{rot:true});
  T(252.7,1549.3,'Month',{align:'center'});T(252.7,1793,'Month',{align:'center'});
  T(138.3,1474.6,'p < 0.0001');T(138.3,1718.8,'p = 3e\u221204');
  legendLine(278.7,314,1457.4,RED);T(324,1457.4,'CC2 high',{size:20});
  legendLine(278.7,314,1481.6,'#000');T(324,1481.6,'CC2 low',{size:20});
  legendLine(278.7,314,1698.8,RED);T(324,1698.8,'CC7 high',{size:20});
  legendLine(278.7,314,1722,'#000');T(324,1722,'CC7 low',{size:20});
})();

/* ---------- panel E ---------- */
(function(){
  const a=area(548.3,1319,690,1713.9,[60,25,5,30]);
  const totals=eSubgroups.map((_,i)=>eGs6[i]+eGs34[i]+eGs43[i]+eGs8[i]+eGs9[i]+eGs10[i]);
  const series=[[eGs6,gsColors[1]],[eGs34,gsColors[2]],[eGs43,gsColors[3]],[eGs8,gsColors[4]],[eGs9,gsColors[5]],[eGs10,gsColors[6]]];
  const o=base(a.padding);
  o.scales={
    x:{type:'linear',offset:false,stacked:true,min:0.377,max:4.6,afterFit:fitAxis(a,'bottom'),afterBuildTicks:setTicks(eSubgroups),border:{display:false},grid:{display:false,drawTicks:false},
       ticks:{color:'#000',padding:7,autoSkip:false,maxRotation:0,font:{family:FONT,size:19},callback:v=>String(v)}},
    y:{type:'linear',stacked:true,min:0,max:100,afterFit:fitAxis(a,'left'),afterBuildTicks:setTicks(eTicks),border:{display:true,color:'#000',width:2.4},
       grid:{drawOnChartArea:false,tickLength:20,tickWidth:2.2,tickColor:'#000',color:'#000'},
       ticks:{color:'#000',padding:0,autoSkip:false,minRotation:90,maxRotation:90,crossAlign:'center',font:{family:FONT,size:19.5},callback:v=>String(v)}}};
  const labelPlugin={id:'counts',afterDatasetsDraw(ch){const c=ch.ctx;c.save();c.font='14.5px '+FONT;c.textAlign='center';c.textBaseline='middle';
    ch.data.datasets.forEach((d,di)=>{ch.getDatasetMeta(di).data.forEach((el,k)=>{const n=d.counts[k];
      if(di===5){c.strokeStyle='#999';c.lineWidth=1.4;c.beginPath();c.moveTo(el.x,el.y-8);c.lineTo(el.x,el.y+1);c.stroke();c.fillStyle='#000';c.fillText(String(n),el.x-1,el.y-15);return;}
      c.fillStyle=di===4?'#fff':'#000';c.fillText(String(n),el.x,(el.y+el.base)/2);});});c.restore();}};
  new Chart(a.c,{type:'bar',plugins:[labelPlugin],data:{datasets:series.map(s=>{const keep=eSubgroups.map((g,i)=>i).filter(i=>s[0][i]>0);return {
    data:keep.map(i=>({x:eSubgroups[i],y:s[0][i]/totals[i]*100})),counts:keep.map(i=>s[0][i]),backgroundColor:s[1],borderColor:'#c8c8c8',borderWidth:2,borderSkipped:false,barThickness:28};})},options:o});
  T(480.7,1514,'Fraction of Gleason scores [%]',{rot:true});
  T(619,1758.8,'PC subgroup',{align:'center'});
})();

/* ---------- panel F ---------- */
(function(){
  km(area(869.5,1326,1117.4,1498,[100,30,25,35]),[
    {t:f1Sub2T,s:f1Sub2S,c:f1Sub2C,color:subLine[1]},{t:f1Sub1T,s:f1Sub1S,c:f1Sub1C,color:subLine[0]},
    {t:f1Sub4T,s:f1Sub4S,c:f1Sub4C,color:subLine[3]},{t:f1Sub3T,s:f1Sub3S,c:f1Sub3C,color:subLine[2]}],17.7);
  km(area(1210.2,1326,1457.6,1498,[100,30,25,35]),[
    {t:f2Sub1T,s:f2Sub1S,c:f2Sub1C,color:subLine[0]},
    {t:f2Sub4T,s:f2Sub4S,c:f2Sub4C,color:subLine[3]},{t:f2Sub3T,s:f2Sub3S,c:f2Sub3C,color:subLine[2]}],17.7);
  T(772,1412,'PSA  recurrence-free',{rot:true,size:20});T(799.7,1412,'survival',{rot:true});
  T(998.5,1548.3,'Month',{align:'center'});T(1339.2,1548.3,'Month',{align:'center'});
  T(880.5,1476,'p < 0.0001');T(1221,1476,'p = 0.0048');
  T(880.5,1592,'subgroups for all (left) and Gleason Score 7 (GS7)-only (right):',{size:20.5});
  ['Subgroup 1 (n (all) = 17; n (GS7) = 11)','Subgroup 2 (n (all) = 3; n (GS7) = 0)','Subgroup 3 (n (all) = 7; n (GS7) = 7)','Subgroup 4 (n (all) = 56; n (GS7) = 44)'].forEach((s,i)=>{
    const y=1624+28*i;legendLine(880.5,915.4,y,subLine[i]);T(925.5,y,s,{size:20.5});});
})();
</script></body></html>
